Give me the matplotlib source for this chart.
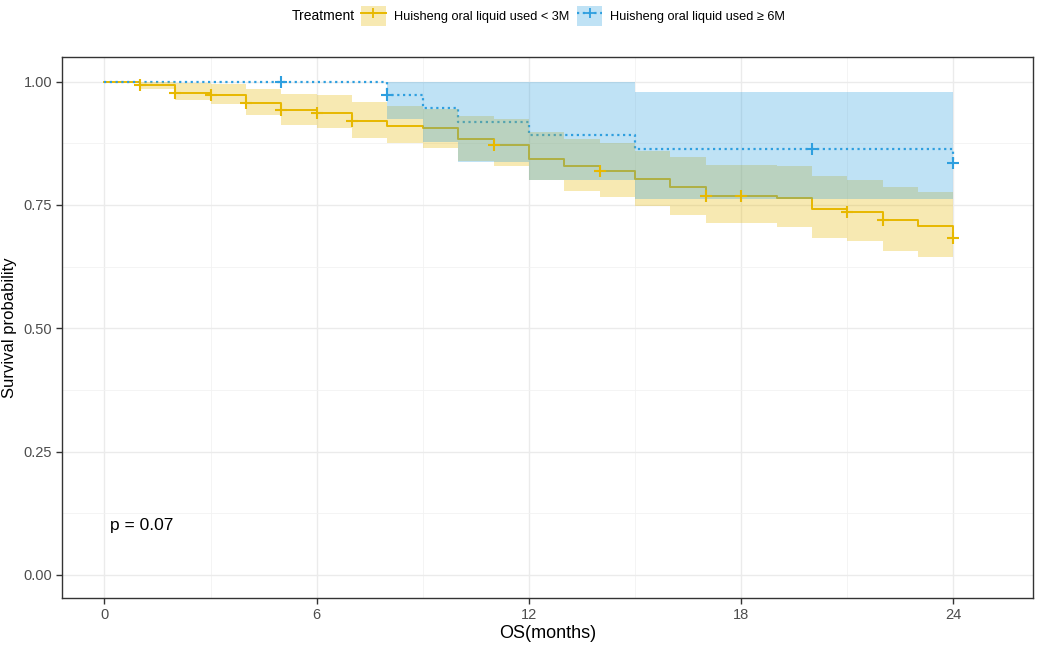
import numpy as np
import matplotlib
matplotlib.use("Agg")
import matplotlib.pyplot as plt
from matplotlib.patches import Patch
from matplotlib.lines import Line2D
from matplotlib.legend_handler import HandlerTuple

plt.rcParams['font.family'] = ['Liberation Sans', 'DejaVu Sans']

# ---------------- data ----------------
group_labels = ["Huisheng oral liquid used < 3M", "Huisheng oral liquid used \u2265 6M"]
legend_title = "Treatment"

# group 1 (< 3M): step times and survival
time_a = [0, 1, 2, 3, 4, 5, 6, 7, 8, 9, 10, 11, 12, 13, 14, 15, 16, 17, 18, 19, 20, 21, 22, 23, 24]
surv_a = [1.0, 0.994, 0.976, 0.972, 0.957, 0.942, 0.937, 0.920, 0.911, 0.906, 0.883, 0.872,
          0.844, 0.828, 0.819, 0.803, 0.786, 0.769, 0.769, 0.765, 0.741, 0.736, 0.719, 0.707, 0.682]
# confidence band per interval [t_i, t_{i+1})
upper_a = [1.0, 1.0, 0.998, 0.995, 0.985, 0.975, 0.972, 0.959, 0.951, 0.945, 0.931, 0.924,
           0.897, 0.884, 0.875, 0.860, 0.847, 0.832, 0.832, 0.828, 0.808, 0.801, 0.786, 0.776]
lower_a = [1.0, 0.985, 0.962, 0.955, 0.933, 0.912, 0.906, 0.885, 0.875, 0.866, 0.840, 0.829,
           0.800, 0.779, 0.767, 0.748, 0.730, 0.713, 0.713, 0.706, 0.682, 0.677, 0.657, 0.644]
censor_a = [1, 2, 3, 4, 5, 6, 7, 11, 14, 17, 18, 21, 22, 24]

# group 2 (>= 6M)
time_b = [0, 8, 9, 10, 12, 15, 24]
surv_b = [1.0, 0.973, 0.946, 0.918, 0.892, 0.864, 0.835]
upper_b = [1.0, 1.0, 1.0, 1.0, 1.0, 0.980]
lower_b = [1.0, 0.924, 0.877, 0.837, 0.800, 0.763]
censor_b = [5, 8, 20, 24]

p_text = "p = 0.07"
x_ticks = [0, 6, 12, 18, 24]
y_ticks = [0.0, 0.25, 0.50, 0.75, 1.00]
y_ticklabels = ["0.00", "0.25", "0.50", "0.75", "1.00"]
x_label = "OS(months)"
y_label = "Survival probability"

col_a = "#E7B800"
col_b = "#2E9FDF"
alpha_band = 0.3

# ---------------- plot ----------------
fig = plt.figure(figsize=(10.38, 6.46), dpi=100)
ax = fig.add_axes([62/1038, 1-598/646, (1033-62)/1038, (598-57)/646])


def step_val(times, surv, t):
    i = np.searchsorted(times, t, side='right') - 1
    return surv[i]


ta = np.array(time_a, float)
sa = np.array(surv_a, float)
tb = np.array(time_b, float)
sb = np.array(surv_b, float)

ax.step(ta, sa, where='post', color=col_a, lw=1.4, zorder=2)
ax.step(tb, sb, where='post', color=col_b, lw=1.6, ls=(0, (1, 1.6)), zorder=2.1)

ua = np.array(upper_a + [upper_a[-1]])
la = np.array(lower_a + [lower_a[-1]])
ub = np.array(upper_b + [upper_b[-1]])
lb = np.array(lower_b + [lower_b[-1]])
ax.fill_between(ta, la, ua, step='post', color=col_a, alpha=alpha_band, lw=0, zorder=3)
ax.fill_between(tb, lb, ub, step='post', color=col_b, alpha=alpha_band, lw=0, zorder=3.1)

ca = np.array(censor_a, float)
cb = np.array(censor_b, float)
ax.plot(ca, [step_val(ta, sa, t) for t in ca], ls='none', marker='+', ms=8, mew=1.5,
        color=col_a, zorder=5)
ax.plot(cb, [step_val(tb, sb, t) for t in cb], ls='none', marker='+', ms=8, mew=1.5,
        color=col_b, zorder=5)

ax.text(0.15, 0.10, p_text, fontsize=12.5, ha='left', va='center', color='black')

ax.set_xlim(-1.2, 26.25)
ax.set_ylim(-0.047, 1.05)
ax.set_xticks(x_ticks)
ax.set_xticklabels([str(v) for v in x_ticks])
ax.set_yticks(y_ticks)
ax.set_yticklabels(y_ticklabels)
ax.set_xticks([3, 9, 15, 21], minor=True)
ax.set_yticks([0.125, 0.375, 0.625, 0.875], minor=True)
ax.grid(True, which='major', color='#EBEBEB', lw=1.0, zorder=0)
ax.grid(True, which='minor', color='#F2F2F2', lw=0.6, zorder=0)
ax.set_axisbelow(True)
ax.tick_params(which='minor', length=0)
ax.tick_params(which='major', length=4, width=1.0, color='#333333', labelsize=10.5,
               labelcolor='#4D4D4D', direction='out', pad=3)
for sp in ax.spines.values():
    sp.set_color('#333333')
    sp.set_linewidth(1.0)
ax.set_xlabel(x_label, fontsize=13, labelpad=2)
ax.set_ylabel(y_label, fontsize=12, labelpad=5)

# legend
h1 = (Patch(facecolor=col_a, alpha=alpha_band, edgecolor='none'),
      Line2D([], [], color=col_a, lw=1.4, marker='+', ms=7, mew=1.3))
h2 = (Patch(facecolor=col_b, alpha=alpha_band, edgecolor='none'),
      Line2D([], [], color=col_b, lw=1.6, ls=(0, (1, 1.6)), marker='+', ms=7, mew=1.3))
leg = fig.legend([h1, h2], group_labels, ncol=2, loc='center left',
                 bbox_to_anchor=(361/1038, 1-16/646), frameon=False, fontsize=9.2,
                 handler_map={tuple: HandlerTuple(ndivide=1, pad=0)},
                 handlelength=1.95, handleheight=2.0, handletextpad=0.62,
                 columnspacing=0.63, borderaxespad=0, borderpad=0)
fig.text(292/1038, 1-16/646, legend_title, fontsize=10, ha='left', va='center')

fig.savefig("out.png", dpi=100)
